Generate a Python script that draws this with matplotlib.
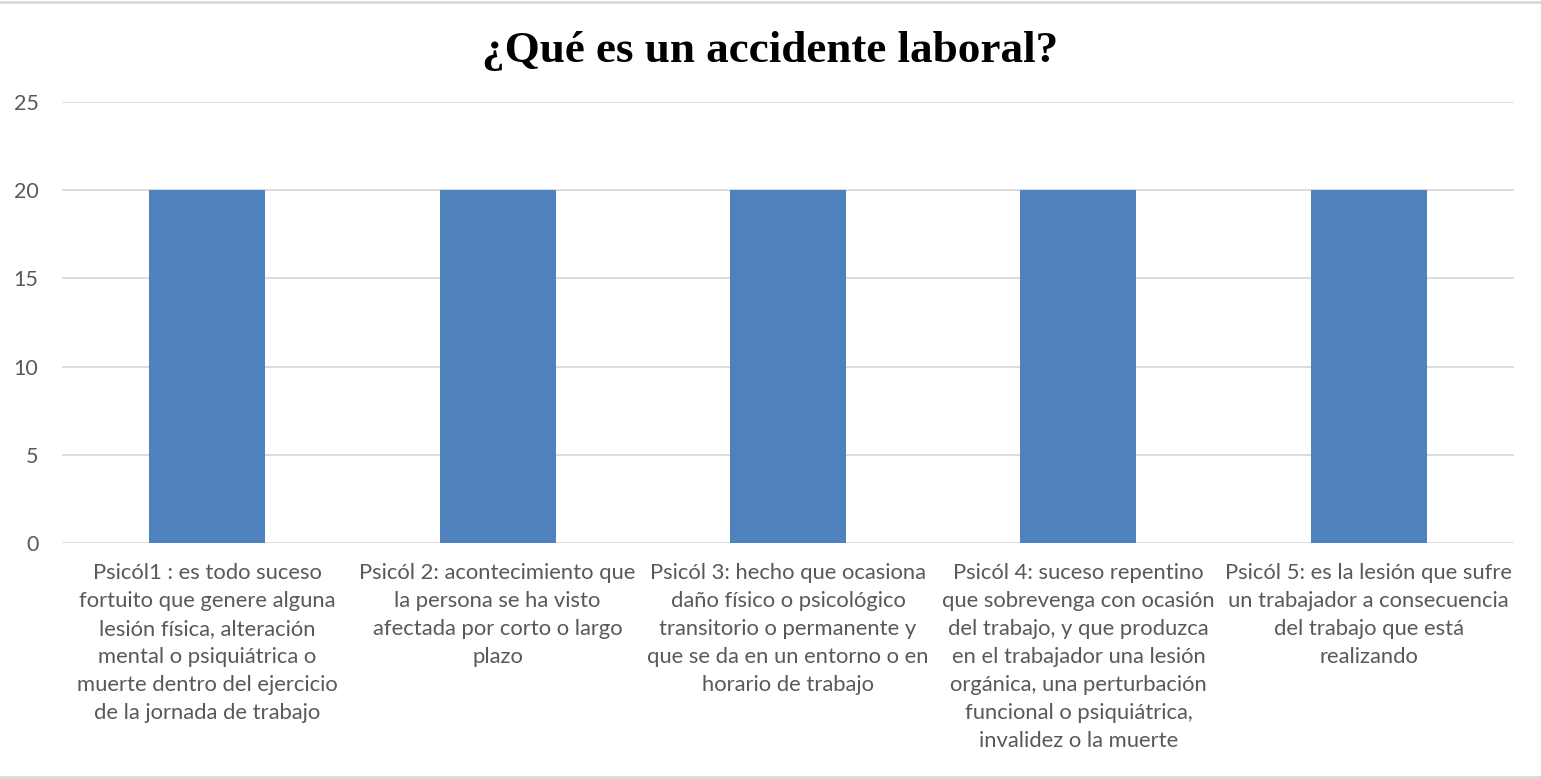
import matplotlib.pyplot as plt
from matplotlib.lines import Line2D

# categories and counts
categorias = [
    "Psicól1 : es todo suceso\nfortuito que genere alguna\nlesión física, alteración\nmental o psiquiátrica o\nmuerte dentro del ejercicio\nde la jornada de trabajo",
    "Psicól 2: acontecimiento que\nla persona se ha visto\nafectada por corto o largo\nplazo",
    "Psicól 3: hecho que ocasiona\ndaño físico o psicológico\ntransitorio o permanente y\nque se da en un entorno o en\nhorario de trabajo",
    "Psicól 4: suceso repentino\nque sobrevenga con ocasión\ndel trabajo, y que produzca\nen el trabajador una lesión\norgánica, una perturbación\nfuncional o psiquiátrica,\ninvalidez o la muerte",
    "Psicól 5: es la lesión que sufre\nun trabajador a consecuencia\ndel trabajo que está\nrealizando",
]
valores = [20, 20, 20, 20, 20]
yticks = [0, 5, 10, 15, 20, 25]

fig = plt.figure(figsize=(15.41, 7.79), dpi=100)
ax = fig.add_axes([62 / 1541, 236 / 779, 1452 / 1541, 441 / 779])

x = range(len(categorias))
ax.bar(x, valores, width=0.4, color="#4F81BD", zorder=3)

ax.set_xlim(-0.5, len(categorias) - 0.5)
ax.set_ylim(0, 25)
ax.set_yticks(yticks)
ax.set_yticklabels([str(v) for v in yticks], fontsize=15.5, color="#595959",
                   family="Lato")
ax.tick_params(axis="y", length=0, pad=17)
ax.tick_params(axis="x", length=0)
ax.set_xticks([])
ax.grid(axis="y", color="#D9D9D9", linewidth=1.3, zorder=0)
for s in ax.spines.values():
    s.set_visible(False)

# multi-line category labels under each bar
for i, txt in enumerate(categorias):
    ax.text(i, -1.15, txt, ha="center", va="top", fontsize=15.8,
            color="#595959", family="Lato", linespacing=1.5)

fig.text(0.5, 0.934, "¿Qué es un accidente laboral?", ha="center", va="center",
         fontsize=32.5, fontweight="bold", family="Liberation Serif", color="#000000")

# thin frame lines at top and bottom
fig.add_artist(Line2D([0, 1], [0.998, 0.998], color="#D9D9D9", linewidth=2,
                      transform=fig.transFigure))
fig.add_artist(Line2D([0, 1], [0.003, 0.003], color="#D9D9D9", linewidth=2,
                      transform=fig.transFigure))

fig.savefig("out.png", dpi=100, facecolor="white")
